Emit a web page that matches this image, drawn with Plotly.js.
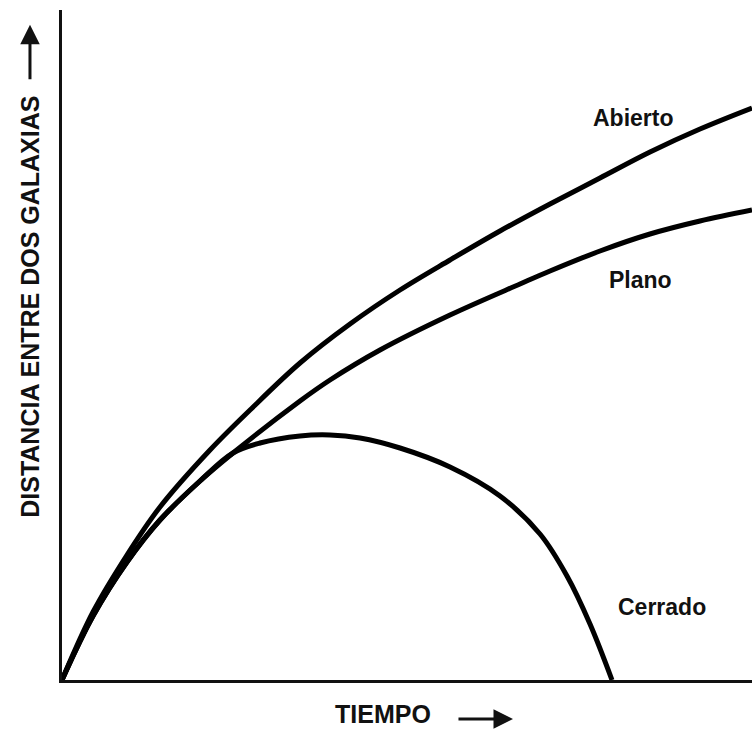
<!DOCTYPE html>
<html>
<head>
<meta charset="utf-8">
<script src="https://cdn.plot.ly/plotly-3.0.1.min.js"></script>
<style>html,body{margin:0;padding:0;background:#fff;}</style>
</head>
<body>
<div id="chart" style="width:752px;height:730px;"></div>
<script>
// Values (time and distance in arbitrary units)
var timeAbierto = [0,31,65,98,148,188,238,288,338,388,438,488,538,588,638,690];
var distAbierto = [0,68,125,173,230,270,317,356,390,420,449,476,502,528,551,572];
var timePlano = [0,31,65,98,138,171,238,268,318,388,458,488,538,588,638,690];
var distPlano = [0,64,118,160,199,227,279,300,330,365,396,409,429,446,459,470];
var timeCerrado = [0,31,65,98,138,171,198,238,268,298,338,388,438,478,505,528,550];
var distCerrado = [0,64,118,160,199,227,237,244,245,242,232,213,184,146,104,56,0];

var curveNames = ['Abierto','Plano','Cerrado'];
var labelX = [571,578,600];
var labelY = [562,400,73];

var xTitle = 'TIEMPO';
var yTitle = 'DISTANCIA ENTRE DOS GALAXIAS';

var font = 'Liberation Sans, Arial, sans-serif';
var lineStyle = {color:'#000', width:5, shape:'spline', smoothing:1};

var traces = [
  {x:timeAbierto, y:distAbierto, name:curveNames[0], mode:'lines', line:lineStyle, hoverinfo:'skip'},
  {x:timePlano, y:distPlano, name:curveNames[1], mode:'lines', line:lineStyle, hoverinfo:'skip'},
  {x:timeCerrado, y:distCerrado, name:curveNames[2], mode:'lines', line:lineStyle, hoverinfo:'skip'}
];

var annotations = curveNames.map(function(n,i){
  return {x:labelX[i], y:labelY[i], xref:'x', yref:'y', text:'<b>'+n+'</b>', showarrow:false,
          xanchor:'center', yanchor:'middle',
          font:{family:font, size:23, color:'#111'}};
});
// y-axis title and arrow
annotations.push({xref:'paper', yref:'paper', x:-0.0464, y:0.557, text:'<b>'+yTitle+'</b>', textangle:-90,
  xanchor:'center', yanchor:'middle',
  showarrow:false, font:{family:font, size:25, color:'#111'}});
annotations.push({xref:'paper', yref:'paper', x:-0.0464, y:0.978, text:'', showarrow:true,
  ax:0, ay:56, arrowhead:2, arrowsize:1.3, arrowwidth:3, arrowcolor:'#111'});
// x-axis title and arrow
annotations.push({xref:'paper', yref:'paper', x:0.4645, y:-0.0508, text:'<b>'+xTitle+'</b>',
  xanchor:'center', yanchor:'middle',
  showarrow:false, font:{family:font, size:25, color:'#111'}});
annotations.push({xref:'paper', yref:'paper', x:0.6536, y:-0.0582, text:'', showarrow:true,
  ax:-56, ay:0, arrowhead:2, arrowsize:1.3, arrowwidth:3, arrowcolor:'#111'});

var layout = {
  width:752, height:730,
  margin:{l:62, r:0, t:10, b:50},
  paper_bgcolor:'#fff', plot_bgcolor:'#fff',
  showlegend:false,
  xaxis:{range:[0,690], showline:true, linecolor:'#111', linewidth:3, showgrid:false,
         zeroline:false, showticklabels:false, ticks:'', fixedrange:true},
  yaxis:{range:[0,670], showline:true, linecolor:'#111', linewidth:3, showgrid:false,
         zeroline:false, showticklabels:false, ticks:'', fixedrange:true},
  annotations:annotations
};

Plotly.newPlot('chart', traces, layout, {displayModeBar:false, staticPlot:true});
</script>
</body>
</html>
